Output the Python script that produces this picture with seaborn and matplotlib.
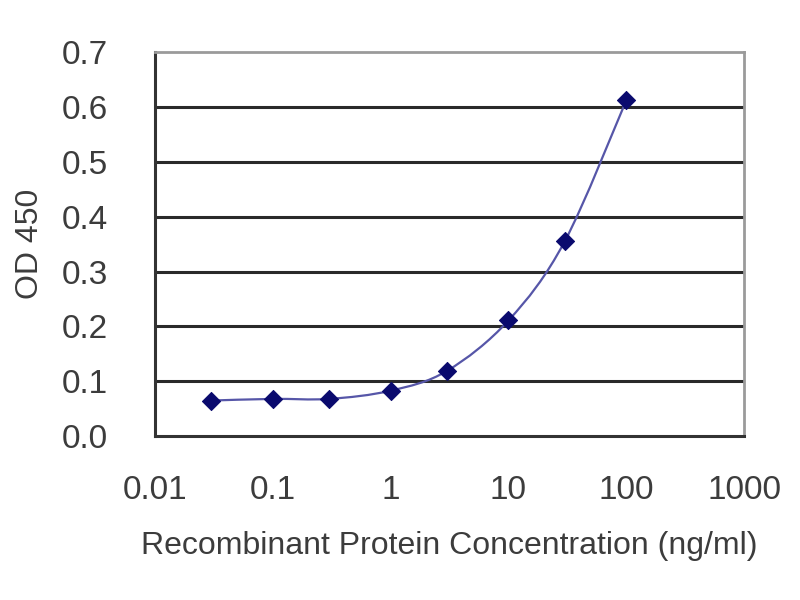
import numpy as np
import pandas as pd
import seaborn as sns
import matplotlib.pyplot as plt
from matplotlib.path import Path
from matplotlib.patches import PathPatch

# Data
concentration = [0.03, 0.1, 0.3, 1, 3, 10, 30, 100]
od450 = [0.065, 0.068, 0.068, 0.083, 0.119, 0.211, 0.355, 0.612]
x_ticks = [0.01, 0.1, 1, 10, 100, 1000]
x_tick_labels = ["0.01", "0.1", "1", "10", "100", "1000"]
y_ticks = [0.0, 0.1, 0.2, 0.3, 0.4, 0.5, 0.6, 0.7]

df = pd.DataFrame({"conc": concentration, "od": od450})

sns.set_style("white")
plt.rcParams['font.family'] = ['Liberation Sans', 'DejaVu Sans']
text_color = "#3c3c3c"

fig = plt.figure(figsize=(8, 6), dpi=100)
ax = fig.add_axes([0.194, 0.273, 0.736, 0.64])

# horizontal gridlines
for yv in y_ticks[1:-1]:
    ax.axhline(yv, color="#2a2a2a", lw=2.2, zorder=1)

# smooth line through points (Excel-style bezier, computed in log-x space)
lx = np.log10(df["conc"].values)
ly = df["od"].values
n = len(lx)
verts = [(lx[0], ly[0])]
codes = [Path.MOVETO]
for i in range(n - 1):
    p0 = np.array([lx[max(i - 1, 0)], ly[max(i - 1, 0)]])
    p1 = np.array([lx[i], ly[i]])
    p2 = np.array([lx[i + 1], ly[i + 1]])
    p3 = np.array([lx[min(i + 2, n - 1)], ly[min(i + 2, n - 1)]])
    c1 = p1 + (p2 - p0) / 6
    c2 = p2 - (p3 - p1) / 6
    verts += [tuple(c1), tuple(c2), tuple(p2)]
    codes += [Path.CURVE4] * 3
verts = [(10 ** vx, vy) for vx, vy in verts]
ax.add_patch(PathPatch(Path(verts, codes), facecolor="none",
                       edgecolor="#5656a8", lw=1.6, zorder=2))

sns.scatterplot(data=df, x="conc", y="od", ax=ax, marker="D", s=85,
                color="#0a0a6e", edgecolor="#0a0a6e", zorder=3, legend=False)

ax.set_xscale("log")
ax.set_xlim(0.01, 1000)
ax.set_ylim(0, 0.7)
ax.set_xticks(x_ticks)
ax.set_xticklabels(x_tick_labels)
ax.minorticks_off()
ax.set_yticks(y_ticks)
ax.set_yticklabels([f"{v:.1f}" for v in y_ticks])

for side in ["left", "bottom"]:
    ax.spines[side].set_color("#333333")
    ax.spines[side].set_linewidth(2.2)
for side in ["top", "right"]:
    ax.spines[side].set_color("#9a9a9a")
    ax.spines[side].set_linewidth(2.0)

ax.tick_params(axis="x", direction="inout", length=8, width=1.5, color="#333333",
               labelsize=24, labelcolor=text_color, pad=24)
ax.tick_params(axis="y", direction="out", length=5, width=1.5, color="#333333",
               labelsize=24, labelcolor=text_color, pad=29)

ax.set_xlabel("Recombinant Protein Concentration (ng/ml)", fontsize=23,
              color=text_color, labelpad=18)
ax.set_ylabel("OD 450", fontsize=23, color=text_color, labelpad=12)

fig.savefig("out.png", dpi=100)
